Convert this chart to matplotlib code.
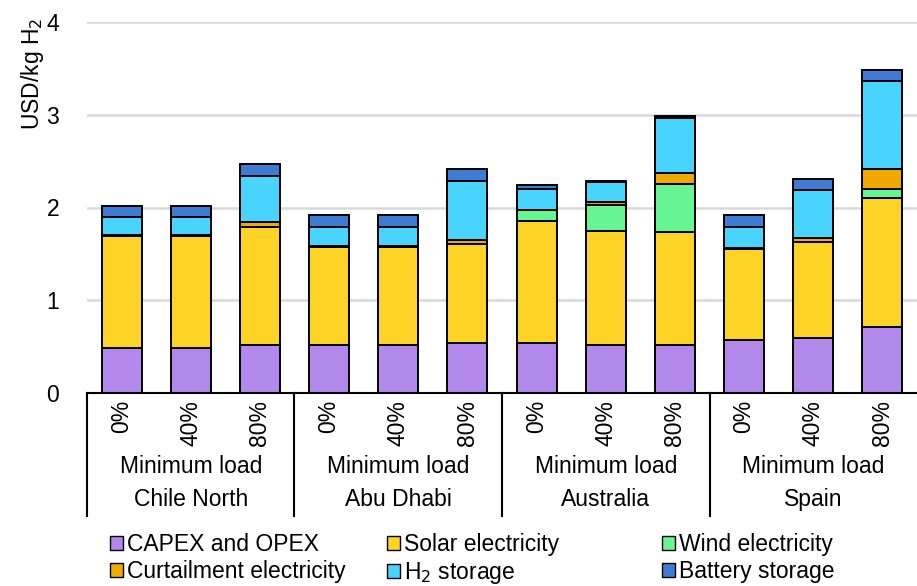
import numpy as np
import matplotlib.pyplot as plt
from matplotlib.patches import Patch
from matplotlib.transforms import blended_transform_factory

plt.rcParams['font.family'] = ['Liberation Sans', 'DejaVu Sans']

countries = ["Chile North", "Abu Dhabi", "Australia", "Spain"]
loads = ["0%", "40%", "80%"]

capex = [0.49, 0.49, 0.52, 0.52, 0.52, 0.54, 0.54, 0.52, 0.52, 0.57, 0.59, 0.71]
solar = [1.20, 1.20, 1.27, 1.05, 1.05, 1.07, 1.31, 1.23, 1.22, 0.98, 1.04, 1.39]
wind = [0, 0, 0, 0, 0, 0, 0.12, 0.28, 0.51, 0, 0, 0.10]
curtail = [0.01, 0.01, 0.05, 0.01, 0.01, 0.04, 0.005, 0.03, 0.12, 0.01, 0.04, 0.21]
h2 = [0.20, 0.20, 0.50, 0.21, 0.21, 0.64, 0.22, 0.21, 0.60, 0.23, 0.52, 0.95]
battery = [0.12, 0.12, 0.13, 0.13, 0.13, 0.13, 0.05, 0.02, 0.02, 0.13, 0.12, 0.12]

series = [
    ("CAPEX and OPEX", capex, "#B288EB"),
    ("Solar electricity", solar, "#FDD325"),
    ("Wind electricity", wind, "#66F592"),
    ("Curtailment electricity", curtail, "#F0A900"),
    ("H$_2$ storage", h2, "#48D4FF"),
    ("Battery storage", battery, "#3F7BD3"),
]

fs = 16.5
fig = plt.figure(figsize=(9.17, 5.86), dpi=100)
ax = fig.add_axes([87 / 917, 193 / 586, 830 / 917, 371 / 586])

x = np.arange(len(countries) * len(loads))
bottom = np.zeros(len(x))
for name, vals, col in series:
    ax.bar(x, vals, 0.58, bottom=bottom, color=col, edgecolor="black",
           linewidth=1.4, zorder=3)
    bottom += np.array(vals)

ax.set_xlim(-0.5, len(x) - 0.5)
ax.set_ylim(0, 4)
ax.set_yticks([0, 1, 2, 3, 4])
ax.grid(axis="y", color="#D9D9D9", linewidth=1.8, zorder=0)
for s in ["top", "right", "left"]:
    ax.spines[s].set_visible(False)
ax.spines["bottom"].set_linewidth(1.5)
ax.spines["bottom"].set_zorder(4)
ax.tick_params(axis="y", length=0, pad=20, labelsize=fs)
ax.tick_params(axis="x", length=0, pad=5, labelsize=fs)
ax.set_xticks(x)
ax.set_xticklabels(loads * len(countries), rotation=90, va="top")

# group separators and category labels
trans = blended_transform_factory(ax.transData, ax.transAxes)
for b in np.arange(-0.5, len(x) - 1, 3):
    ax.plot([b, b], [0, -0.332], color="black", lw=1.5, transform=trans,
            clip_on=False)
for i, c in enumerate(countries):
    cx = i * 3 + 1
    ax.text(cx, -0.197, "Minimum load", transform=trans, ha="center",
            va="center", fontsize=fs)
    ax.text(cx, -0.288, c, transform=trans, ha="center", va="center",
            fontsize=fs)

fig.text(33 / 917, 1 - 18 / 586, "USD/kg H$_2$", rotation=90, ha="center",
         va="top", fontsize=fs)

# legend in three columns
cols_x = [110 / 917, 387 / 917, 662 / 917]
for k, cx in enumerate(cols_x):
    handles = []
    for name, vals, col in (series[k], series[k + 3]):
        handles.append(Patch(facecolor=col, edgecolor="black", linewidth=1.0,
                             label=name))
    fig.legend(handles=handles, loc="upper left",
               bbox_to_anchor=(cx, 1 - 533 / 586), frameon=False,
               fontsize=fs, handlelength=0.55, handleheight=0.55,
               handletextpad=0.2, labelspacing=0.18, borderpad=0,
               borderaxespad=0)

fig.savefig("out.png", dpi=100)
